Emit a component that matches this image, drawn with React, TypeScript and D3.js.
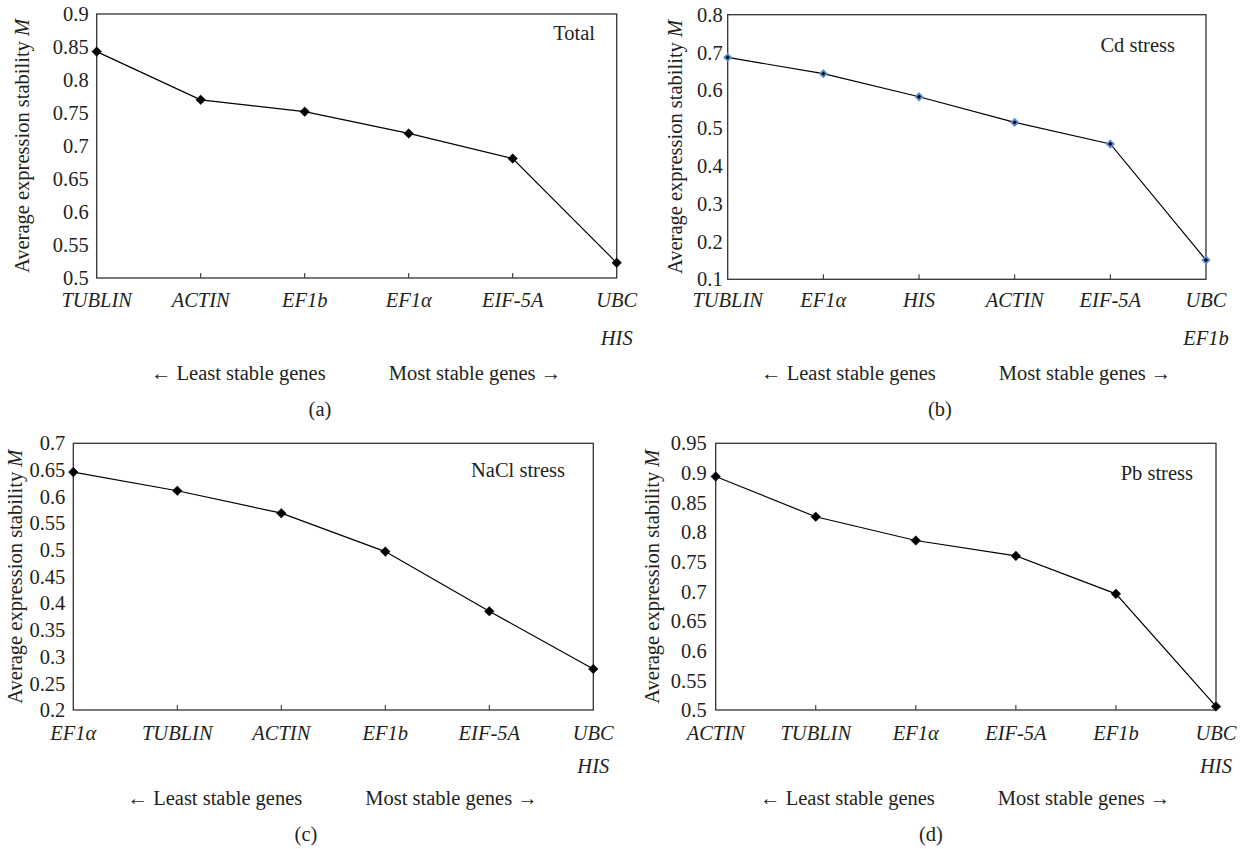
import React from "react";
import * as d3 from "d3";

const genesA = ["TUBLIN", "ACTIN", "EF1b", "EF1α", "EIF-5A", "UBC"];
const extraA = "HIS";
const valuesA = [0.843, 0.77, 0.752, 0.719, 0.681, 0.523];
const ticksA = [0.5, 0.55, 0.6, 0.65, 0.7, 0.75, 0.8, 0.85, 0.9];

const genesB = ["TUBLIN", "EF1α", "HIS", "ACTIN", "EIF-5A", "UBC"];
const extraB = "EF1b";
const valuesB = [0.687, 0.644, 0.583, 0.515, 0.458, 0.151];
const ticksB = [0.1, 0.2, 0.3, 0.4, 0.5, 0.6, 0.7, 0.8];

const genesC = ["EF1α", "TUBLIN", "ACTIN", "EF1b", "EIF-5A", "UBC"];
const extraC = "HIS";
const valuesC = [0.646, 0.611, 0.569, 0.497, 0.385, 0.277];
const ticksC = [0.2, 0.25, 0.3, 0.35, 0.4, 0.45, 0.5, 0.55, 0.6, 0.65, 0.7];

const genesD = ["ACTIN", "TUBLIN", "EF1α", "EIF-5A", "EF1b", "UBC"];
const extraD = "HIS";
const valuesD = [0.894, 0.826, 0.786, 0.76, 0.696, 0.506];
const ticksD = [0.5, 0.55, 0.6, 0.65, 0.7, 0.75, 0.8, 0.85, 0.9, 0.95];

const FONT = "Liberation Serif, Times New Roman, serif";
const FS = 20.5;

type PanelProps = {
  genes: string[];
  extra: string;
  values: number[];
  ticks: number[];
  left: number;
  right: number;
  top: number;
  bottom: number;
  labelGap: number;
  titleX: number;
  name: string;
  nameX: number;
  nameY: number;
  rowCat: number;
  rowExtra: number;
  rowLegend: number;
  rowCaption: number;
  caption: string;
  captionX: number;
  blueEdge?: boolean;
};

function Panel(p: PanelProps) {
  const x = d3.scalePoint<string>().domain(p.genes).range([p.left, p.right]).padding(0);
  const y = d3
    .scaleLinear()
    .domain([p.ticks[0], p.ticks[p.ticks.length - 1]])
    .range([p.bottom, p.top]);
  const line = d3
    .line<number>()
    .x((_, i) => x(p.genes[i]) as number)
    .y((v) => y(v));
  const fmt = (v: number) => String(+v.toFixed(2));
  const r = p.blueEdge ? 3.4 : 4.8;
  const cx = (p.left + p.right) / 2;
  const cy = (p.top + p.bottom) / 2;
  const ink = "#231f20";
  return (
    <g style={{ fontFamily: FONT }} fontSize={FS} fill={ink}>
      {p.ticks.map((t) => (
        <text key={t} x={p.left - p.labelGap} y={y(t)} dy="0.35em" textAnchor="end">
          {fmt(t)}
        </text>
      ))}
      <text
        transform={`translate(${p.titleX},${cy}) rotate(-90)`}
        textAnchor="middle"
        dy="0.35em"
      >
        Average expression stability <tspan fontStyle="italic">M</tspan>
      </text>
      {p.genes.map((g, i) =>
        i > 0 && i < p.genes.length - 1 ? (
          <line
            key={"t" + g}
            x1={x(g)}
            x2={x(g)}
            y1={p.bottom}
            y2={p.bottom - 5}
            stroke={ink}
            strokeWidth={1}
          />
        ) : null
      )}
      <rect
        x={p.left}
        y={p.top}
        width={p.right - p.left}
        height={p.bottom - p.top}
        fill="none"
        stroke="#333"
        strokeWidth={1.3}
      />
      <path d={line(p.values) || ""} fill="none" stroke="#000" strokeWidth={1.2} />
      {p.values.map((v, i) => {
        const px = x(p.genes[i]) as number;
        const py = y(v);
        return (
          <path
            key={"m" + i}
            d={`M${px},${py - r}L${px + r},${py}L${px},${py + r}L${px - r},${py}Z`}
            fill="#000"
            stroke={p.blueEdge ? "#5b8fd0" : "#000"}
            strokeWidth={p.blueEdge ? 1.8 : 0.5}
          />
        );
      })}
      <text x={p.nameX} y={p.nameY} textAnchor="end">
        {p.name}
      </text>
      {p.genes.map((g) => (
        <text key={"c" + g} x={x(g)} y={p.rowCat} textAnchor="middle" fontStyle="italic">
          {g}
        </text>
      ))}
      <text x={p.right} y={p.rowExtra} textAnchor="middle" fontStyle="italic">
        {p.extra}
      </text>
      <text x={cx - 31} y={p.rowLegend} textAnchor="end">
        ← Least stable genes
      </text>
      <text x={cx + 32} y={p.rowLegend} textAnchor="start">
        Most stable genes →
      </text>
      <text x={p.captionX} y={p.rowCaption} textAnchor="middle">
        {p.caption}
      </text>
    </g>
  );
}

export default function App() {
  return (
    <svg
      width={1240}
      height={849}
      style={{ position: "absolute", left: 0, top: 0, background: "#fff" }}
    >
      <rect width={1240} height={849} fill="#fff" />
      <Panel
        genes={genesA}
        extra={extraA}
        values={valuesA}
        ticks={ticksA}
        left={96.7}
        right={616.7}
        top={14}
        bottom={278}
        labelGap={8}
        titleX={22}
        name="Total"
        nameX={595}
        nameY={40}
        rowCat={307}
        rowExtra={345}
        rowLegend={380}
        rowCaption={416}
        caption="(a)"
        captionX={320}
      />
      <Panel
        genes={genesB}
        extra={extraB}
        values={valuesB}
        ticks={ticksB}
        left={727.7}
        right={1206}
        top={14.7}
        bottom={279.3}
        labelGap={5}
        titleX={675}
        name="Cd stress"
        nameX={1175}
        nameY={52}
        rowCat={307}
        rowExtra={345}
        rowLegend={380}
        rowCaption={416}
        caption="(b)"
        captionX={940}
        blueEdge
      />
      <Panel
        genes={genesC}
        extra={extraC}
        values={valuesC}
        ticks={ticksC}
        left={73.3}
        right={593.3}
        top={443.3}
        bottom={710}
        labelGap={8}
        titleX={15}
        name="NaCl stress"
        nameX={565}
        nameY={477}
        rowCat={740}
        rowExtra={773}
        rowLegend={805}
        rowCaption={841}
        caption="(c)"
        captionX={306}
      />
      <Panel
        genes={genesD}
        extra={extraD}
        values={valuesD}
        ticks={ticksD}
        left={715.7}
        right={1216}
        top={443.3}
        bottom={710}
        labelGap={9}
        titleX={652}
        name="Pb stress"
        nameX={1193}
        nameY={480}
        rowCat={740}
        rowExtra={773}
        rowLegend={805}
        rowCaption={841}
        caption="(d)"
        captionX={931}
      />
    </svg>
  );
}
